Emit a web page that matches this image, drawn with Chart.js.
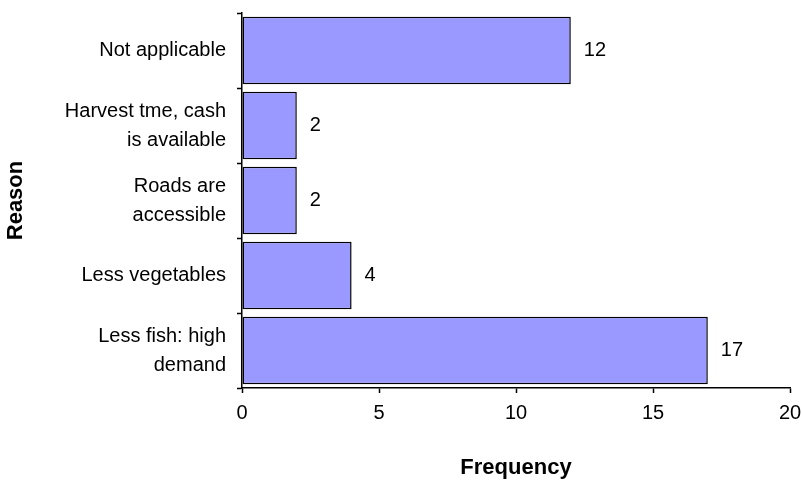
<!DOCTYPE html>
<html>
<head>
<meta charset="utf-8">
<script src="https://cdn.jsdelivr.net/npm/chart.js@4"></script>
<style>
html,body{margin:0;padding:0;background:#fff;}
#wrap{width:804px;height:485px;}
</style>
</head>
<body>
<div id="wrap"><canvas id="c" width="804" height="485"></canvas></div>
<script>
const categories = [
  "Not applicable",
  ["Harvest tme, cash", "is available"],
  ["Roads are", "accessible"],
  "Less vegetables",
  ["Less fish: high", "demand"]
];
const frequency = [12, 2, 2, 4, 17];
const xTicks = [0, 5, 10, 15, 20];

const FONT = "'Liberation Sans', Arial, sans-serif";

const valueLabels = {
  id: 'valueLabels',
  afterDatasetsDraw(chart) {
    const ctx = chart.ctx;
    const meta = chart.getDatasetMeta(0);
    ctx.save();
    ctx.fillStyle = '#000';
    ctx.font = "20px " + FONT;
    ctx.textAlign = 'left';
    ctx.textBaseline = 'middle';
    meta.data.forEach((bar, i) => {
      ctx.fillText(String(frequency[i]), bar.x + 13, bar.y);
    });
    ctx.restore();
  }
};

new Chart(document.getElementById('c'), {
  type: 'bar',
  data: {
    labels: categories,
    datasets: [{
      data: frequency,
      backgroundColor: '#9999FF',
      borderColor: '#000000',
      borderWidth: 1.5,
      borderSkipped: false,
      barPercentage: 0.9,
      categoryPercentage: 1.0
    }]
  },
  options: {
    indexAxis: 'y',
    responsive: false,
    animation: false,
    devicePixelRatio: 1,
    layout: { padding: { top: 13, right: 14, left: 0, bottom: 0 } },
    plugins: { legend: { display: false }, tooltip: { enabled: false } },
    scales: {
      x: {
        type: 'linear',
        min: 0, max: 20,
        afterBuildTicks: (s) => { s.ticks = xTicks.map(v => ({ value: v })); },
        grid: { drawOnChartArea: false, color: '#000', tickLength: 5, tickWidth: 1.5 },
        border: { color: '#000', width: 1.5 },
        ticks: { color: '#000', font: { family: FONT, size: 20 }, padding: 8 },
        title: { display: true, text: 'Frequency', color: '#000', font: { family: FONT, size: 22, weight: 'bold' }, padding: { top: 13, bottom: 4 } },
        afterFit: (s) => { s.height = 97; s.paddingLeft = 0; s.paddingRight = 0; }
      },
      y: {
        type: 'category',
        offset: true,
        grid: { drawOnChartArea: false, offset: true, color: '#000', tickLength: 5, tickWidth: 1.5 },
        border: { color: '#000', width: 1.5 },
        ticks: { color: '#000', font: { family: FONT, size: 20, lineHeight: 1.45 }, padding: 11 },
        title: { display: true, text: 'Reason', color: '#000', font: { family: FONT, size: 22, weight: 'bold' }, padding: { top: 3, bottom: 0 } },
        afterFit: (s) => { s.width = 242; s.paddingTop = 0; s.paddingBottom = 0; }
      }
    }
  },
  plugins: [valueLabels]
});
</script>
</body>
</html>
